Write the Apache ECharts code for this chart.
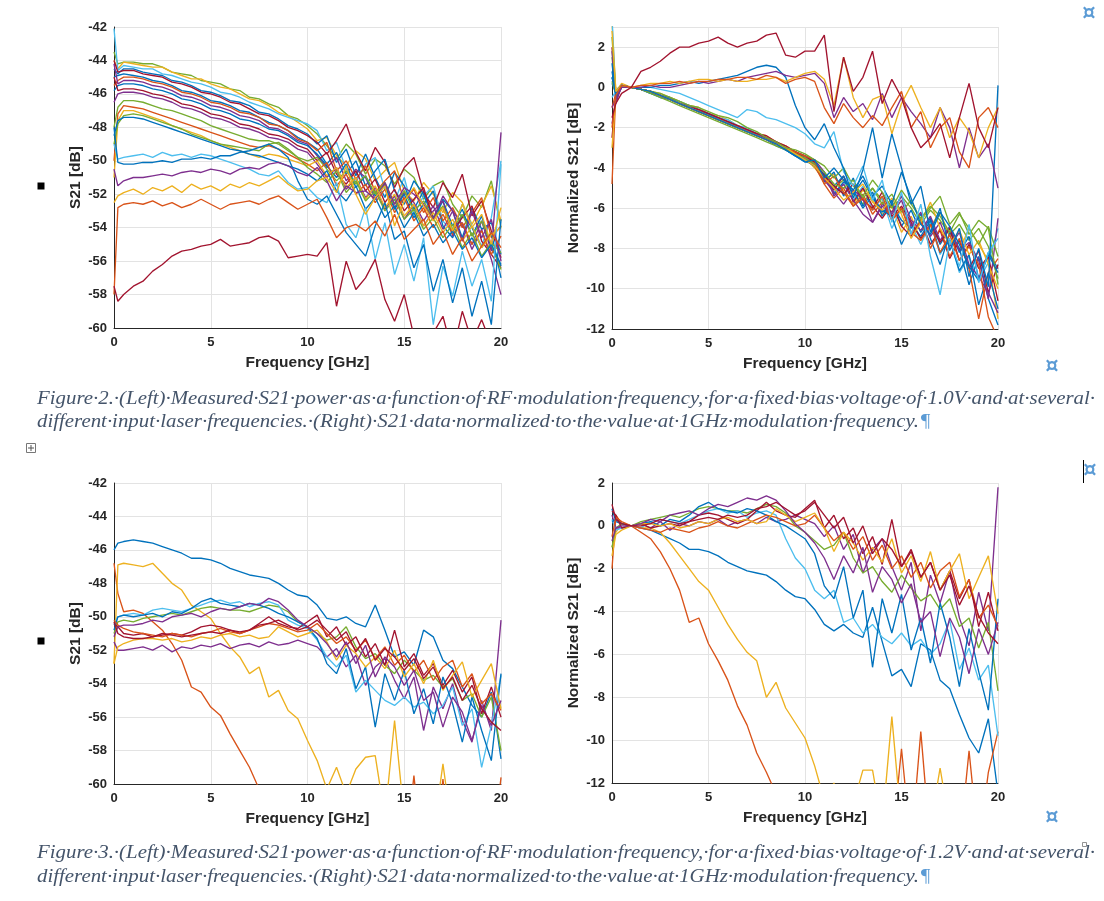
<!DOCTYPE html>
<html><head><meta charset="utf-8">
<script src="https://cdn.jsdelivr.net/npm/echarts@6/dist/echarts.min.js"></script>
<style>html,body{margin:0;padding:0;background:#fff;}#c{width:1104px;height:901px;}</style>
</head><body><div id="c"></div>
<script>
// ---------- DATA ----------
const freqGHz = [0,0.2,0.5,1,1.5,2,2.5,3,3.5,4,4.5,5,5.5,6,6.5,7,7.5,8,8.5,9,9.5,10,10.5,11,11.5,12,12.5,13,13.5,14,14.5,15,15.5,16,16.5,17,17.5,18,18.5,19,19.5,20];
const freqTicks = [0,5,10,15,20];
const s21Ticks = [-60,-58,-56,-54,-52,-50,-48,-46,-44,-42];
const normTicks = [-12,-10,-8,-6,-4,-2,0,2];

// Figure 2, left: measured S21 [dB], bias 1.0 V
const fig2LeftS21 = [
[-43.5,-44.2,-44.1,-44.1,-44.2,-44.2,-44.4,-44.7,-44.8,-44.9,-45.2,-45.3,-45.4,-45.7,-45.8,-46.2,-46.3,-46.6,-46.8,-47.3,-47.5,-47.9,-48.4,-49.1,-49.9,-49.0,-49.6,-50.8,-49.9,-50.3,-51.4,-50.5,-51.0,-52.3,-51.5,-51.2,-52.6,-53.4,-52.1,-52.8,-51.2,-54.0],
[-44.0,-44.5,-44.1,-44.2,-44.3,-44.4,-44.4,-44.7,-44.9,-45.1,-45.1,-45.4,-45.6,-45.7,-46.0,-46.3,-46.4,-46.7,-47.1,-47.3,-47.7,-48.1,-48.8,-48.6,-49.7,-50.3,-49.4,-49.9,-51.2,-50.6,-50.1,-51.8,-52.4,-51.3,-52.0,-53.1,-51.9,-52.5,-53.8,-52.7,-51.5,-53.6],
[-42.1,-44.6,-44.3,-44.4,-44.5,-44.5,-44.8,-44.9,-45.1,-45.3,-45.4,-45.6,-45.9,-46.0,-46.2,-46.5,-46.7,-46.9,-47.2,-47.4,-47.6,-47.8,-48.2,-49.4,-48.9,-50.5,-51.3,-50.2,-49.8,-51.7,-52.4,-51.0,-53.2,-52.1,-51.5,-53.6,-54.3,-52.6,-53.9,-55.1,-53.4,-50.0],
[-44.5,-44.8,-44.5,-44.5,-44.7,-44.8,-44.9,-45.2,-45.3,-45.5,-45.8,-45.9,-46.1,-46.4,-46.5,-46.7,-47.1,-47.2,-47.5,-47.9,-48.1,-48.4,-49.0,-48.5,-50.1,-49.3,-50.9,-49.6,-51.0,-52.2,-50.7,-51.5,-52.9,-51.8,-53.4,-52.3,-53.0,-54.6,-52.8,-54.1,-53.7,-55.6],
[-44.0,-44.7,-44.6,-44.6,-44.8,-44.9,-45.0,-45.3,-45.4,-45.6,-45.9,-46.0,-46.2,-46.5,-46.6,-46.9,-47.2,-47.3,-47.6,-48.0,-48.2,-48.5,-48.9,-49.6,-48.8,-47.8,-49.5,-50.6,-49.2,-50.1,-51.6,-50.4,-49.8,-51.9,-52.8,-51.3,-52.2,-50.8,-53.3,-52.4,-54.2,-55.8],
[-45.0,-44.9,-44.8,-44.9,-45.0,-45.2,-45.3,-45.5,-45.8,-45.9,-46.1,-46.4,-46.5,-46.7,-47.0,-47.1,-47.4,-47.7,-47.9,-48.2,-48.6,-48.9,-49.3,-50.2,-49.5,-50.8,-50.0,-51.5,-50.6,-49.9,-51.8,-52.6,-51.2,-52.0,-53.5,-52.4,-53.9,-52.9,-54.5,-53.3,-55.2,-56.3],
[-45.5,-45.2,-45.0,-45.0,-45.1,-45.3,-45.4,-45.6,-45.9,-46.0,-46.2,-46.5,-46.6,-46.8,-47.1,-47.2,-47.4,-47.8,-47.9,-48.2,-48.7,-48.9,-49.4,-48.9,-50.6,-50.0,-51.1,-50.3,-51.9,-51.2,-50.6,-52.4,-51.7,-53.1,-52.2,-53.6,-52.8,-54.0,-53.1,-52.2,-54.6,-53.9],
[-44.2,-45.4,-45.2,-45.2,-45.3,-45.5,-45.6,-45.8,-46.1,-46.2,-46.4,-46.7,-46.8,-47.0,-47.3,-47.4,-47.6,-48.0,-48.1,-48.4,-48.8,-49.0,-49.7,-50.4,-49.8,-51.2,-50.5,-51.0,-52.3,-51.4,-52.8,-51.9,-52.5,-53.6,-52.7,-54.1,-53.0,-53.8,-55.0,-53.6,-55.4,-48.3],
[-45.8,-45.5,-45.4,-45.4,-45.5,-45.7,-45.8,-46.0,-46.3,-46.4,-46.6,-46.9,-47.0,-47.2,-47.5,-47.6,-47.8,-48.1,-48.2,-48.5,-48.9,-49.1,-49.6,-50.3,-51.0,-50.2,-51.6,-50.9,-52.1,-51.5,-52.9,-52.0,-53.4,-52.6,-51.8,-53.9,-54.6,-53.2,-54.0,-55.2,-54.3,-57.0],
[-45.0,-45.8,-45.7,-45.7,-45.8,-46.0,-46.1,-46.3,-46.6,-46.7,-46.9,-47.2,-47.3,-47.5,-47.8,-47.9,-48.1,-48.4,-48.5,-48.7,-49.1,-49.3,-50.0,-49.5,-50.8,-51.4,-50.6,-51.8,-51.1,-52.5,-51.7,-53.0,-52.3,-51.6,-53.5,-52.8,-54.2,-53.4,-52.7,-54.8,-55.6,-56.4],
[-46.5,-46.0,-45.9,-45.9,-46.0,-46.2,-46.3,-46.5,-46.8,-46.9,-47.1,-47.4,-47.5,-47.7,-48.0,-48.1,-48.3,-48.6,-48.7,-48.9,-49.3,-49.5,-50.2,-51.0,-50.4,-51.7,-51.0,-52.2,-51.6,-52.9,-52.1,-53.5,-52.6,-53.9,-53.0,-52.4,-54.5,-53.7,-55.3,-54.1,-55.9,-58.0],
[-48.0,-46.8,-46.4,-46.4,-46.5,-46.7,-46.9,-47.0,-47.2,-47.4,-47.6,-47.9,-48.1,-48.3,-48.5,-48.7,-48.8,-48.8,-49.0,-49.4,-49.8,-50.0,-49.8,-50.5,-51.2,-50.6,-51.4,-50.9,-52.0,-51.3,-52.6,-51.8,-53.0,-52.4,-53.5,-52.7,-54.1,-53.2,-54.5,-53.6,-55.0,-56.5],
[-50.0,-47.2,-46.7,-46.8,-46.9,-47.1,-47.3,-47.5,-47.7,-47.9,-48.1,-48.3,-48.5,-48.7,-48.9,-49.1,-49.2,-49.1,-49.3,-49.6,-49.9,-50.2,-50.6,-50.1,-51.5,-50.8,-52.0,-51.4,-52.5,-51.7,-53.1,-52.2,-53.6,-52.8,-54.0,-53.2,-54.4,-53.7,-55.0,-54.2,-55.6,-54.5],
[-51.0,-47.6,-47.0,-47.0,-47.2,-47.4,-47.6,-47.9,-48.1,-48.3,-48.5,-48.8,-49.0,-49.2,-49.4,-49.6,-49.8,-49.6,-49.7,-49.9,-50.1,-50.3,-50.0,-50.9,-50.4,-51.6,-51.0,-52.3,-51.5,-52.8,-52.0,-53.3,-52.6,-53.9,-53.1,-54.3,-53.5,-54.8,-53.9,-55.2,-54.4,-54.0],
[-49.0,-47.8,-47.3,-47.2,-47.3,-47.5,-47.7,-47.9,-48.1,-48.4,-48.6,-48.8,-49.0,-49.1,-49.2,-49.3,-49.4,-49.0,-48.9,-49.3,-49.8,-50.4,-50.8,-51.3,-50.6,-51.9,-51.2,-52.4,-51.8,-53.0,-52.3,-53.5,-52.9,-54.1,-53.4,-54.6,-53.8,-55.2,-54.3,-55.7,-54.9,-55.5],
[-48.5,-47.6,-47.4,-47.4,-47.5,-47.7,-47.9,-48.1,-48.3,-48.5,-48.7,-48.9,-49.1,-49.3,-49.4,-49.6,-49.7,-49.9,-50.1,-50.3,-50.5,-50.8,-51.2,-50.6,-51.8,-52.4,-51.5,-52.9,-52.2,-53.4,-52.7,-54.0,-53.1,-54.5,-53.8,-54.9,-54.2,-55.3,-54.6,-55.8,-55.0,-56.2],
[-49.0,-49.9,-49.8,-49.7,-49.6,-49.8,-49.5,-49.7,-49.6,-49.8,-49.6,-49.7,-49.9,-50.1,-50.3,-50.5,-50.8,-50.9,-50.6,-51.3,-51.7,-51.6,-52.2,-52.5,-51.3,-53.8,-54.6,-52.8,-55.9,-53.7,-56.8,-55.0,-57.2,-54.6,-59.8,-56.3,-58.1,-55.4,-57.5,-55.9,-58.4,-50.2],
[-48.0,-50.1,-50.2,-50.2,-50.1,-50.1,-50.0,-50.1,-49.9,-49.9,-49.8,-49.9,-49.7,-49.7,-49.5,-49.4,-49.2,-49.0,-49.3,-49.8,-51.2,-52.3,-52.6,-52.1,-53.2,-54.3,-55.0,-55.7,-53.9,-52.5,-54.7,-54.2,-56.4,-55.0,-57.8,-55.9,-58.5,-56.4,-59.3,-57.2,-59.8,-53.5],
[-50.5,-51.5,-51.2,-51.0,-51.0,-50.9,-50.8,-50.9,-50.7,-50.6,-50.7,-50.5,-50.6,-50.8,-50.5,-50.4,-50.5,-50.2,-50.1,-50.3,-50.7,-50.9,-50.4,-51.2,-52.4,-51.5,-51.9,-51.8,-52.3,-51.3,-52.6,-51.6,-52.0,-52.6,-53.5,-52.1,-53.0,-54.8,-53.0,-54.6,-53.5,-56.0],
[-52.5,-52.1,-51.9,-51.7,-52.0,-51.6,-51.8,-51.5,-51.9,-51.4,-51.7,-51.5,-51.8,-51.4,-51.6,-51.3,-51.5,-51.2,-50.9,-51.4,-51.8,-51.7,-51.2,-51.0,-51.9,-50.3,-52.0,-53.2,-52.2,-51.5,-53.9,-52.4,-51.6,-52.7,-53.6,-52.8,-54.2,-52.6,-54.0,-53.2,-55.0,-52.8],
[-58.0,-52.8,-52.6,-52.5,-52.6,-52.4,-52.7,-52.5,-52.8,-52.6,-52.3,-52.6,-52.9,-52.6,-52.5,-52.4,-52.6,-52.3,-52.1,-52.5,-52.9,-52.6,-52.3,-53.4,-54.6,-54.0,-53.8,-54.2,-53.6,-54.5,-53.2,-54.7,-54.1,-53.5,-55.0,-54.2,-55.6,-54.6,-56.0,-55.1,-54.3,-55.2],
[-57.5,-58.4,-58.0,-57.5,-57.2,-56.6,-56.2,-55.7,-55.4,-55.3,-55.1,-55.0,-54.7,-55.1,-55.0,-54.9,-54.6,-54.5,-54.8,-55.8,-55.7,-55.6,-55.7,-54.9,-58.7,-56.0,-57.7,-57.0,-55.9,-58.3,-59.6,-58.0,-60.5,-61.2,-60.3,-59.3,-61.5,-59.0,-60.8,-59.5,-61.0,-60.2]
];

// Figure 2, right: S21 normalized to 1 GHz [dB]
const fig2RightNorm = [
[1.5,-0.3,0.1,0,-0.1,-0.2,-0.4,-0.5,-0.7,-0.9,-1.1,-1.3,-1.5,-1.7,-1.9,-2.1,-2.3,-2.5,-2.7,-3.0,-3.2,-3.4,-3.8,-4.4,-5.0,-4.6,-5.3,-5.8,-5.0,-5.6,-6.2,-5.4,-6.0,-6.8,-6.1,-6.6,-7.3,-6.8,-7.6,-7.0,-7.9,-9.5],
[3.2,-0.2,0.2,0,-0.1,-0.2,-0.3,-0.5,-0.7,-0.9,-1.0,-1.3,-1.4,-1.6,-1.9,-2.1,-2.3,-2.4,-2.7,-2.9,-3.2,-3.5,-4.0,-4.6,-4.3,-5.2,-5.8,-5.1,-5.6,-6.3,-5.9,-7.2,-6.4,-7.6,-6.9,-6.2,-7.4,-8.1,-7.0,-7.8,-8.6,-11.5],
[3.5,-0.5,0.1,0,-0.1,-0.2,-0.4,-0.6,-0.7,-0.9,-1.1,-1.3,-1.5,-1.6,-1.9,-2.0,-2.3,-2.5,-2.7,-3.0,-3.3,-3.5,-3.9,-4.5,-5.2,-4.8,-5.6,-4.9,-6.1,-5.5,-7.0,-6.0,-6.8,-7.8,-6.7,-8.3,-7.5,-9.2,-8.4,-9.6,-8.7,-7.0],
[0.8,-0.4,0.1,0,-0.1,-0.3,-0.4,-0.6,-0.8,-1.0,-1.2,-1.4,-1.6,-1.8,-2.0,-2.2,-2.4,-2.6,-2.8,-3.1,-3.4,-3.6,-3.9,-4.7,-4.2,-5.4,-4.5,-5.9,-5.2,-6.4,-5.6,-6.9,-6.1,-7.2,-6.5,-7.8,-7.0,-8.2,-7.4,-9.5,-8.2,-9.0],
[2.0,-0.6,0.1,0,-0.1,-0.2,-0.4,-0.6,-0.8,-1.0,-1.2,-1.4,-1.6,-1.8,-2.0,-2.2,-2.4,-2.5,-2.7,-3.0,-3.2,-3.4,-3.7,-4.5,-5.1,-4.4,-5.7,-5.0,-5.9,-6.5,-5.8,-6.9,-7.4,-6.6,-7.8,-7.1,-8.5,-7.6,-9.0,-8.1,-10.2,-8.8],
[0.5,-0.2,0.1,0,-0.1,-0.3,-0.5,-0.6,-0.8,-1.0,-1.2,-1.4,-1.6,-1.8,-2.0,-2.2,-2.4,-2.6,-2.9,-3.1,-3.4,-3.7,-3.8,-4.2,-5.3,-4.7,-5.1,-6.0,-5.4,-6.2,-5.8,-6.6,-7.0,-6.3,-7.5,-8.8,-7.2,-8.0,-9.8,-8.4,-10.5,-11.8],
[-1.0,-0.3,0.0,0,-0.1,-0.2,-0.4,-0.6,-0.8,-1.0,-1.2,-1.4,-1.6,-1.8,-2.0,-2.2,-2.3,-2.5,-2.8,-3.0,-3.3,-3.5,-3.9,-4.8,-5.5,-5.0,-5.9,-5.3,-6.3,-5.7,-6.6,-6.0,-7.3,-6.6,-8.0,-7.0,-8.4,-7.5,-9.0,-11.5,-9.2,-8.5],
[1.8,-0.8,0.1,0,-0.1,-0.2,-0.4,-0.6,-0.8,-0.9,-1.1,-1.3,-1.5,-1.7,-1.9,-2.1,-2.3,-2.5,-2.7,-3.0,-3.2,-3.4,-3.6,-4.2,-5.4,-4.8,-5.6,-6.3,-6.7,-5.8,-6.2,-5.4,-6.6,-7.1,-6.4,-7.6,-6.9,-8.1,-7.7,-8.6,-10.5,-6.5],
[0.2,-0.3,0.1,0,-0.1,-0.2,-0.4,-0.5,-0.8,-1.0,-1.2,-1.3,-1.6,-1.8,-2.0,-2.2,-2.4,-2.6,-2.8,-3.1,-3.3,-3.6,-3.9,-4.3,-4.9,-4.4,-5.3,-4.6,-5.5,-6.1,-6.4,-7.8,-6.8,-7.4,-6.6,-8.2,-7.6,-9.1,-8.3,-10.8,-9.2,-11.0],
[-2.5,-0.5,0.0,0,-0.1,-0.2,-0.4,-0.6,-0.8,-1.0,-1.1,-1.3,-1.5,-1.7,-1.9,-2.1,-2.3,-2.4,-2.7,-2.9,-3.2,-3.5,-3.7,-4.4,-4.9,-5.3,-4.8,-5.6,-6.0,-5.2,-6.4,-5.9,-6.7,-7.5,-6.8,-7.7,-7.0,-8.6,-7.8,-9.0,-8.4,-10.6],
[-1.8,-0.7,0.1,0,-0.1,-0.2,-0.4,-0.6,-0.8,-1.0,-1.2,-1.4,-1.6,-1.8,-2.0,-2.2,-2.4,-2.6,-2.8,-3.0,-3.3,-3.5,-3.8,-4.6,-5.2,-5.8,-5.1,-5.5,-6.7,-5.9,-6.3,-5.6,-6.9,-6.2,-7.4,-6.7,-7.9,-7.2,-8.8,-9.4,-10.2,-11.2],
[2.5,-0.3,0.1,0,-0.1,-0.3,-0.5,-0.7,-0.9,-1.1,-1.3,-1.5,-1.7,-1.9,-2.1,-2.3,-2.5,-2.7,-2.9,-3.1,-3.3,-3.5,-3.8,-4.2,-4.8,-5.0,-4.6,-5.5,-5.0,-5.8,-5.3,-6.2,-5.6,-6.6,-6.0,-5.4,-6.8,-6.2,-7.3,-6.6,-7.0,-9.8],
[-4.8,-0.2,0.1,0,-0.1,-0.2,-0.4,-0.6,-0.8,-1.0,-1.2,-1.4,-1.6,-1.8,-2.0,-2.2,-2.4,-2.6,-2.8,-3.0,-3.2,-3.4,-3.6,-4.8,-4.4,-5.2,-5.9,-5.5,-6.1,-5.4,-6.6,-6.0,-7.2,-7.6,-6.8,-8.2,-7.3,-8.6,-7.9,-8.8,-11.4,-12.5],
[-3.0,-0.4,0.1,0,-0.1,-0.2,-0.4,-0.6,-0.8,-1.0,-1.2,-1.4,-1.6,-1.8,-2.0,-2.2,-2.4,-2.6,-2.8,-3.0,-3.3,-3.6,-3.9,-4.5,-5.0,-5.6,-5.2,-4.8,-5.7,-6.1,-5.5,-6.3,-7.5,-6.7,-5.7,-7.0,-7.8,-7.1,-8.3,-7.6,-8.8,-10.0],
[0.3,-0.3,0.1,0,-0.1,-0.2,-0.3,-0.5,-0.7,-0.9,-1.0,-1.2,-1.4,-1.5,-1.7,-2.0,-2.2,-2.5,-2.7,-3.0,-3.1,-3.3,-3.6,-3.9,-4.5,-4.0,-4.9,-5.4,-4.6,-5.2,-6.0,-5.1,-5.8,-6.5,-5.9,-6.4,-7.2,-6.3,-7.0,-7.8,-6.9,-8.4],
[1.2,-0.5,0.0,0,-0.1,-0.2,-0.4,-0.6,-0.8,-1.0,-1.2,-1.4,-1.6,-1.8,-2.0,-2.2,-2.4,-2.6,-2.8,-3.1,-3.4,-3.7,-3.6,-4.5,-4.0,-4.6,-5.1,-4.4,-5.4,-4.9,-5.8,-4.2,-5.5,-6.8,-7.3,-6.2,-6.9,-7.8,-8.9,-9.6,-8.3,-9.2],
[-0.5,-0.2,0.1,0,0.0,0.0,-0.1,-0.2,-0.3,-0.5,-0.7,-0.9,-1.1,-1.3,-1.5,-1.1,-1.2,-1.5,-1.6,-1.8,-2.0,-2.3,-2.8,-3.0,-2.2,-4.2,-4.9,-3.9,-5.6,-4.6,-6.7,-5.2,-7.3,-5.8,-8.4,-10.3,-7.6,-8.9,-6.8,-9.7,-8.2,-7.5],
[0.5,-0.3,0.1,0,0.0,0.0,0.1,0.1,0.2,0.3,0.2,0.3,0.4,0.5,0.6,0.8,1.0,1.1,1.0,0.5,-0.9,-2.0,-2.6,-1.8,-3.0,-4.0,-5.5,-4.1,-2.0,-4.5,-2.3,-4.0,-5.8,-4.9,-7.2,-6.0,-8.1,-7.0,-9.4,-8.0,-9.9,0.1],
[-1.0,-0.6,0.0,0,0.0,0.1,0.0,0.0,0.1,0.2,0.3,0.2,0.3,0.4,0.3,0.5,0.6,0.7,0.8,0.6,0.5,0.6,0.7,0.2,-1.5,-0.5,-1.2,-0.8,-1.6,-0.3,-1.5,-0.5,-1.2,-1.8,-2.5,-1.0,-2.0,-4.0,-2.0,-3.5,-2.8,-5.0],
[2.8,-0.2,0.1,0,0.1,0.2,0.2,0.3,0.2,0.3,0.4,0.4,0.3,0.4,0.3,0.3,0.4,0.4,0.5,0.3,0.5,0.7,0.8,0.4,-0.9,1.5,-0.5,-1.5,-0.6,-0.4,-2.3,-0.8,0.1,-1.0,-2.0,-1.0,-2.5,-1.5,-2.2,-3.5,-2.0,-1.0],
[-2.0,-0.4,0.1,0,0.1,0.1,0.2,0.2,0.3,0.2,0.3,0.3,0.4,0.4,0.5,0.5,0.4,0.6,0.5,0.2,0.4,0.5,0.3,-1.0,-1.8,-0.8,-1.5,-2.0,-1.4,-1.9,-1.0,-0.2,-2.0,-1.2,-3.0,-2.0,-1.5,-3.2,-4.0,-1.5,-1.0,-2.0],
[-1.5,-0.8,-0.3,0,0.8,1.0,1.3,1.7,2.0,2.0,2.2,2.3,2.5,2.2,2.0,2.2,2.3,2.6,2.7,1.6,1.5,1.8,1.8,2.6,-1.2,1.5,-0.2,0.5,1.8,-0.8,0.4,-0.5,-2.0,-3.0,-2.5,-1.8,-3.5,-1.5,0.2,-2.0,-3.0,-1.0]
];

// Figure 3, left: measured S21 [dB], bias 1.2 V
const fig3LeftS21 = [
[-46.0,-45.6,-45.5,-45.4,-45.5,-45.6,-45.8,-46.0,-46.2,-46.5,-46.5,-46.6,-46.8,-47.1,-47.3,-47.5,-47.6,-47.7,-48.0,-48.4,-48.7,-48.8,-49.3,-50.1,-50.2,-50.0,-50.4,-50.6,-49.3,-50.8,-52.4,-52.1,-52.9,-50.8,-51.2,-52.6,-53.1,-54.2,-55.3,-56.0,-54.5,-58.5],
[-46.8,-48.6,-49.7,-49.6,-49.8,-50.3,-50.8,-51.6,-52.6,-54.2,-54.5,-55.4,-55.9,-57.0,-58.0,-59.0,-60.3,-61.2,-62.0,-62.8,-63.5,-64.0,-64.5,-65.0,-65.0,-65.0,-65.0,-65.0,-65.0,-65.0,-65.0,-65.0,-59.5,-65.0,-65.0,-59.7,-65.0,-65.0,-65.0,-65.0,-65.0,-59.6],
[-52.8,-46.9,-46.8,-46.9,-47.0,-46.8,-47.4,-48.0,-48.4,-49.3,-49.7,-50.1,-51.0,-51.8,-52.4,-53.4,-53.0,-54.8,-54.4,-55.6,-56.1,-57.4,-58.6,-60.3,-59.0,-60.6,-59.1,-58.4,-58.3,-62.0,-56.2,-62.0,-63.0,-63.0,-63.0,-58.8,-63.0,-63.0,-63.0,-63.0,-63.0,-63.0],
[-51.5,-52.0,-52.0,-51.9,-51.8,-52.0,-51.7,-52.1,-51.8,-51.9,-51.7,-51.8,-51.6,-51.9,-51.7,-51.6,-51.8,-51.5,-51.7,-51.6,-51.4,-51.6,-51.8,-52.4,-51.9,-53.0,-52.3,-54.1,-53.0,-52.5,-53.8,-54.9,-53.6,-56.8,-54.2,-55.5,-54.0,-56.2,-57.5,-55.0,-56.8,-50.2],
[-51.0,-50.3,-50.2,-50.3,-50.1,-50.0,-49.9,-49.8,-49.9,-49.7,-49.5,-49.4,-49.5,-49.6,-49.6,-49.7,-49.5,-49.3,-49.4,-49.7,-50.3,-50.6,-51.0,-51.4,-51.2,-50.6,-51.8,-52.5,-52.2,-52.9,-53.4,-52.6,-53.2,-53.8,-53.5,-54.2,-53.7,-55.0,-54.6,-56.0,-54.8,-58.0],
[-50.5,-50.0,-49.9,-49.8,-49.9,-49.6,-49.5,-49.6,-49.7,-49.5,-49.3,-49.1,-49.0,-49.2,-49.1,-49.4,-49.2,-49.1,-49.3,-50.2,-50.5,-50.7,-51.4,-52.4,-53.0,-52.3,-54.5,-53.8,-54.4,-55.0,-55.3,-54.8,-55.4,-55.1,-55.8,-55.3,-54.2,-56.5,-55.5,-59.0,-56.5,-53.5],
[-50.4,-50.6,-51.0,-51.1,-51.0,-51.2,-51.1,-51.0,-51.1,-50.9,-50.6,-50.5,-50.6,-50.8,-51.0,-50.8,-50.4,-50.0,-50.4,-50.6,-50.7,-50.3,-49.9,-51.2,-50.6,-51.7,-51.2,-52.4,-51.6,-52.9,-50.8,-53.0,-52.2,-53.5,-52.8,-54.1,-53.2,-54.5,-53.6,-55.8,-54.2,-56.0],
[-50.8,-50.0,-49.9,-50.0,-49.9,-49.8,-50.0,-49.7,-49.8,-49.5,-49.1,-48.9,-49.2,-49.3,-49.4,-49.2,-49.3,-49.5,-49.8,-50.0,-50.3,-50.6,-51.3,-52.8,-53.4,-51.9,-54.3,-53.0,-56.6,-53.4,-55.0,-53.2,-55.8,-54.3,-56.4,-53.6,-55.2,-57.5,-54.8,-56.8,-58.6,-53.4],
[-50.2,-50.5,-50.7,-50.9,-51.0,-51.1,-51.2,-51.0,-51.1,-51.2,-51.0,-50.9,-50.7,-50.9,-51.0,-50.8,-50.6,-50.4,-50.5,-50.7,-50.9,-50.8,-50.4,-51.0,-51.6,-51.2,-52.0,-51.4,-52.5,-51.8,-52.9,-52.3,-53.3,-52.6,-53.8,-53.0,-52.6,-54.2,-53.4,-55.2,-54.6,-55.6],
[-52.8,-51.8,-51.6,-51.4,-51.3,-51.3,-51.4,-51.3,-51.5,-51.4,-51.2,-51.3,-51.1,-51.0,-51.2,-51.1,-51.3,-51.2,-50.6,-50.9,-51.2,-51.0,-50.8,-51.5,-52.6,-51.7,-52.2,-53.0,-52.4,-53.1,-52.0,-53.6,-52.8,-54.0,-52.6,-54.4,-53.5,-52.7,-54.8,-53.8,-52.8,-55.5],
[-51.2,-50.6,-50.5,-50.5,-50.4,-50.2,-50.3,-50.0,-49.9,-49.8,-50.0,-49.7,-49.5,-49.6,-49.4,-49.2,-49.3,-48.9,-49.1,-49.6,-50.2,-50.6,-51.0,-51.6,-52.4,-51.5,-52.8,-51.7,-53.6,-52.4,-53.0,-54.1,-53.2,-55.0,-54.5,-56.6,-54.8,-55.7,-57.4,-55.3,-56.5,-55.0],
[-50.3,-51.0,-51.2,-51.3,-51.3,-51.2,-51.0,-51.1,-51.2,-51.1,-51.0,-50.9,-51.0,-50.8,-50.9,-50.8,-50.5,-50.4,-50.2,-50.5,-50.8,-50.6,-50.2,-50.8,-51.4,-50.9,-52.1,-51.3,-52.6,-51.9,-52.4,-53.2,-52.5,-53.7,-53.0,-54.3,-53.6,-55.0,-54.1,-55.5,-56.3,-56.8]
];

// Figure 3, right: S21 normalized to 1 GHz [dB]
const fig3RightNorm = [
[0.8,0.2,0.1,0,-0.1,-0.2,-0.4,-0.6,-0.8,-1.1,-1.1,-1.2,-1.4,-1.7,-1.9,-2.1,-2.2,-2.3,-2.6,-3.0,-3.3,-3.4,-3.9,-4.6,-4.9,-4.6,-5.0,-5.2,-3.8,-5.4,-7.0,-6.7,-7.5,-5.5,-5.8,-7.2,-7.6,-8.8,-9.9,-10.6,-9.0,-12.5],
[-2.0,0.5,0.1,0,-0.3,-0.6,-1.2,-2.0,-3.0,-4.5,-4.3,-5.5,-6.3,-7.2,-8.4,-9.3,-10.6,-11.5,-12.5,-13.2,-14.0,-14.5,-15,-15,-15,-15,-15,-15,-15,-15,-15,-10.4,-15,-9.6,-15,-15,-15,-15,-10.5,-15,-11.5,-9.6],
[-1.0,-0.3,0.1,0,-0.1,-0.1,-0.3,-0.8,-1.4,-2.0,-2.6,-3.0,-3.8,-4.6,-5.3,-5.9,-6.3,-8.0,-7.3,-8.5,-9.2,-9.9,-11.2,-12.8,-12.0,-13,-13,-11.4,-11.4,-14,-8.9,-14,-14,-14,-14,-11.3,-14,-14,-14,-14,-14,-14],
[0.5,-0.1,-0.1,0,0.1,-0.1,0.2,-0.2,0.1,0.0,0.2,0.1,0.3,0.0,0.2,0.3,0.1,0.4,0.2,0.3,0.5,0.3,0.1,-0.5,0.0,-1.1,-0.4,-2.2,-1.1,-0.6,-1.9,-3.0,-1.7,-4.9,-2.3,-3.6,-2.1,-4.3,-5.6,-3.1,-4.9,1.8],
[-1.0,-0.1,0.1,0,0.2,0.3,0.4,0.5,0.4,0.6,0.8,0.9,0.8,0.7,0.7,0.6,0.8,1.0,0.9,0.6,0.0,-0.3,-0.7,-1.1,-0.9,-0.3,-1.5,-2.2,-1.9,-2.6,-3.1,-2.3,-2.9,-3.5,-3.2,-3.9,-3.4,-4.7,-4.3,-5.7,-4.5,-7.7],
[0.3,-0.2,-0.1,0,-0.1,0.2,0.3,0.2,0.1,0.3,0.5,0.7,0.8,0.6,0.7,0.4,0.6,0.7,0.5,-0.6,-1.5,-2.0,-3.0,-3.4,-3.0,-4.5,-4.3,-5.0,-4.6,-5.2,-5.5,-5.0,-5.6,-5.3,-6.0,-5.5,-4.4,-6.7,-5.7,-7.2,-6.5,-9.8],
[0.7,0.5,-0.1,0,0.1,-0.1,0.0,0.1,0.0,0.2,0.5,0.6,0.5,0.3,0.1,0.3,0.7,1.1,0.7,0.5,0.4,0.8,1.2,-0.1,0.5,-0.6,-0.1,-1.3,-0.5,-1.8,0.3,-1.9,-1.1,-2.4,-1.7,-3.0,-2.1,-3.4,-2.5,-4.7,-3.1,-4.9],
[0.2,0.3,0.1,0,0.1,0.2,0.0,0.3,0.2,0.5,0.9,1.1,0.8,0.7,0.6,0.8,0.7,0.5,0.2,0.0,-0.3,-0.6,-1.3,-2.8,-3.4,-1.9,-4.3,-3.0,-6.6,-3.4,-5.0,-3.2,-5.8,-4.3,-6.4,-3.6,-5.2,-7.5,-4.8,-6.8,-8.6,-3.4],
[-0.5,0.4,0.2,0,-0.1,-0.2,-0.3,-0.1,-0.2,-0.3,-0.1,0.0,0.2,0.0,-0.1,0.1,0.3,0.5,0.4,0.2,0.0,0.1,0.5,-0.1,-0.7,-0.3,-1.1,-0.5,-1.6,-0.9,-2.0,-1.4,-2.4,-1.7,-2.9,-2.1,-1.7,-3.3,-2.5,-4.3,-3.7,-4.7],
[-1.4,-0.4,-0.2,0,0.1,0.1,0.0,0.1,-0.1,0.0,0.2,0.1,0.3,0.4,0.2,0.3,0.1,0.2,0.8,0.5,0.2,0.4,0.6,-0.1,-1.2,-0.3,-0.8,-1.6,-1.0,-1.7,-0.6,-2.2,-1.4,-2.6,-1.2,-3.0,-2.1,-1.3,-3.4,-2.4,-1.4,-4.1],
[-0.7,-0.1,0.0,0,0.1,0.3,0.2,0.5,0.6,0.7,0.5,0.8,1.0,0.9,1.1,1.3,1.2,1.4,1.2,0.7,0.1,-0.3,-0.8,-1.5,-2.5,-1.4,-2.2,-1.0,-3.1,-1.9,-2.5,-3.6,-2.7,-4.5,-4.0,-6.1,-4.3,-5.2,-6.9,-4.8,-6.0,-4.5],
[1.0,0.3,0.1,0,0.0,0.1,0.3,0.2,0.1,0.2,0.3,0.4,0.3,0.5,0.4,0.5,0.8,0.9,1.1,0.8,0.5,0.7,1.1,0.5,-0.1,0.4,-0.8,0.0,-1.3,-0.6,-1.1,-1.9,-1.2,-2.4,-1.7,-3.0,-2.3,-3.7,-2.8,-4.2,-5.0,-5.5]
];

const fig2Caption = ['Figure·2.·(Left)·Measured·S21·power·as·a·function·of·RF·modulation·frequency,·for·a·fixed·bias·voltage·of·1.0V·and·at·several·',
  'different·input·laser·frequencies.·(Right)·S21·data·normalized·to·the·value·at·1GHz·modulation·frequency.'];
const fig3Caption = ['Figure·3.·(Left)·Measured·S21·power·as·a·function·of·RF·modulation·frequency,·for·a·fixed·bias·voltage·of·1.2V·and·at·several·',
  'different·input·laser·frequencies.·(Right)·S21·data·normalized·to·the·value·at·1GHz·modulation·frequency.'];

// ---------- STYLE ----------
const PAL = {B:'#0072BD', O:'#D95319', Y:'#EDB120', P:'#7E2F8E', G:'#77AC30', L:'#4DBEEE', R:'#A2142F'};
const fig2Colors = 'G Y L B R B O P B R P G O Y G B L B P Y O R'.split(' ').map(k => PAL[k]);
const fig3Colors = 'B O Y P G L R B O Y P R'.split(' ').map(k => PAL[k]);

const AX = '#262626';
const FONT = '"Liberation Sans", Arial, sans-serif';

function makeX(gi) {
  return {
    gridIndex: gi, type: 'value', min: freqTicks[0], max: freqTicks[freqTicks.length-1], interval: 5,
    name: 'Frequency [GHz]', nameLocation: 'middle', nameGap: 27, nameMoveOverlap: false,
    nameTextStyle: {fontFamily: FONT, fontWeight: 'bold', fontSize: 15.5, color: AX},
    axisLine: {show: true, onZero: false, lineStyle: {color: AX, width: 1}},
    axisTick: {show: false},
    axisLabel: {fontFamily: FONT, fontWeight: 'bold', fontSize: 13, color: AX, margin: 8},
    splitLine: {show: true, lineStyle: {color: '#e3e3e3', width: 1}}
  };
}
function makeY(gi, ticks, max, name, gap) {
  return {
    gridIndex: gi, type: 'value', min: ticks[0], max: max, interval: 2,
    name: name, nameLocation: 'middle', nameGap: gap, nameRotate: 90, nameMoveOverlap: false,
    nameTextStyle: {fontFamily: FONT, fontWeight: 'bold', fontSize: 15.5, color: AX},
    axisLine: {show: true, onZero: false, lineStyle: {color: AX, width: 1}},
    axisTick: {show: false},
    axisLabel: {fontFamily: FONT, fontWeight: 'bold', fontSize: 13, color: AX, margin: 7,
                showMaxLabel: max === ticks[ticks.length-1]},
    splitLine: {show: true, lineStyle: {color: '#e3e3e3', width: 1}}
  };
}
function makeSeries(rows, colors, gi) {
  return rows.map((vals, k) => ({
    type: 'line', xAxisIndex: gi, yAxisIndex: gi, showSymbol: false, symbol: 'none',
    data: freqGHz.map((f, i) => [f, vals[i]]),
    lineStyle: {width: 1.35, color: colors[k]}, itemStyle: {color: colors[k]},
    clip: true, silent: true, animation: false
  }));
}

// caption text measurement (layout only)
const capFont = 'italic 19px "Liberation Serif", "Times New Roman", serif';
const mctx = document.createElement('canvas').getContext('2d');
mctx.font = capFont;
function capEls(lines, y1, y2) {
  const w1 = mctx.measureText(lines[0]).width;
  const s = 1058 / w1;
  const w2 = mctx.measureText(lines[1]).width * s;
  const st = {font: capFont, fill: '#44546A', verticalAlign: 'middle', align: 'left'};
  return [
    {type: 'text', x: 37, y: y1, scaleX: s, style: Object.assign({text: lines[0]}, st)},
    {type: 'text', x: 37, y: y2, scaleX: s, style: Object.assign({text: lines[1]}, st)},
    {type: 'text', x: 38 + w2, y: y2, scaleX: s, style: Object.assign({}, st, {text: '¶', fill: '#5B9BD5'})}
  ];
}
function mark(x, y) {
  return {type: 'text', x: x, y: y, style: {text: '¤', font: 'bold 21px "DejaVu Sans"', fill: '#5B9BD5', align: 'center', verticalAlign: 'middle'}};
}

const chart = echarts.init(document.getElementById('c'), null, {renderer: 'canvas'});
chart.setOption({
  backgroundColor: '#ffffff',
  animation: false,
  grid: [
    {left: 114, top: 27, width: 387, height: 301},
    {left: 612, top: 27, width: 386, height: 302},
    {left: 114, top: 483, width: 387, height: 301},
    {left: 612, top: 483, width: 386, height: 300}
  ],
  xAxis: [makeX(0), makeX(1), makeX(2), makeX(3)],
  yAxis: [
    makeY(0, s21Ticks, -42, 'S21 [dB]', 30),
    makeY(1, normTicks, 3, 'Normalized S21 [dB]', 30),
    makeY(2, s21Ticks, -42, 'S21 [dB]', 30),
    makeY(3, normTicks, 2, 'Normalized S21 [dB]', 30)
  ],
  series: [].concat(
    makeSeries(fig2LeftS21, fig2Colors, 0),
    makeSeries(fig2RightNorm, fig2Colors, 1),
    makeSeries(fig3LeftS21, fig3Colors, 2),
    makeSeries(fig3RightNorm, fig3Colors, 3)
  ),
  graphic: [].concat(
    capEls(fig2Caption, 399, 422),
    capEls(fig3Caption, 853, 877),
    [
      {type: 'rect', shape: {x: 37.5, y: 182.5, width: 7, height: 7}, style: {fill: '#000'}},
      {type: 'rect', shape: {x: 37.5, y: 637.5, width: 7, height: 7}, style: {fill: '#000'}},
      {type: 'rect', shape: {x: 26.5, y: 443.5, width: 9, height: 9}, style: {fill: 'none', stroke: '#777', lineWidth: 1}},
      {type: 'line', shape: {x1: 31, y1: 445, x2: 31, y2: 451}, style: {stroke: '#555', lineWidth: 1}},
      {type: 'line', shape: {x1: 28, y1: 448, x2: 34, y2: 448}, style: {stroke: '#555', lineWidth: 1}},
      {type: 'line', shape: {x1: 1083.5, y1: 460, x2: 1083.5, y2: 483}, style: {stroke: '#000', lineWidth: 1}},
      {type: 'rect', shape: {x: 1082.5, y: 842.5, width: 4, height: 4}, style: {fill: 'none', stroke: '#777', lineWidth: 0.8}},
      mark(1089, 14), mark(1052, 367), mark(1090, 471), mark(1052, 818)
    ]
  )
});
</script>
</body></html>
